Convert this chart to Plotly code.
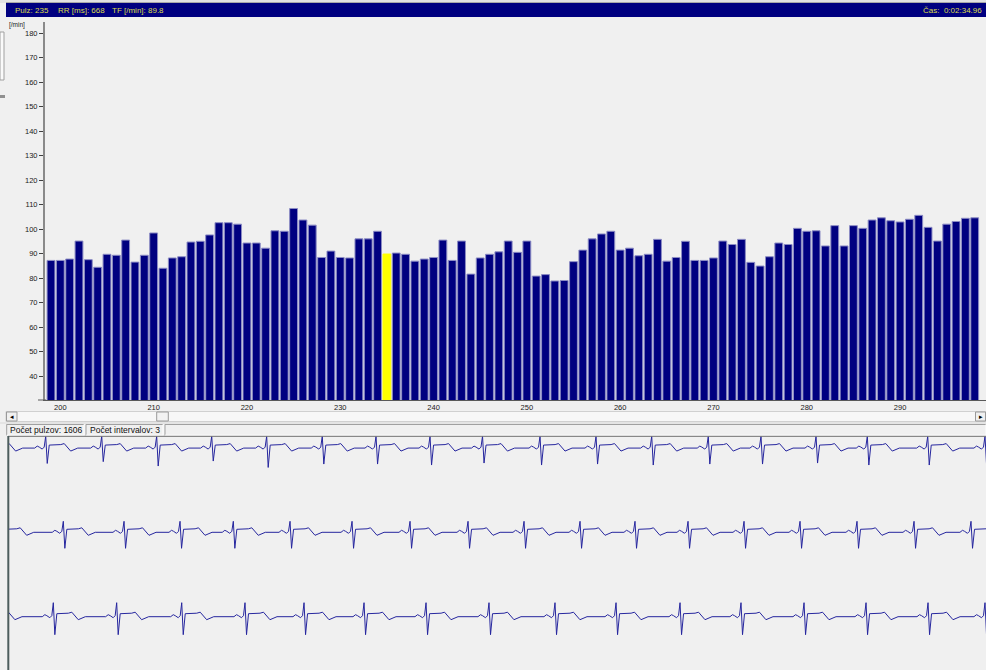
import plotly.graph_objects as go

W, H = 986, 670

# ---------------- data ----------------
pulse_first = 199
selected_pulse = 235
tf_values = [87.2, 87.2, 87.75, 95.1, 87.5, 84.4, 89.7, 89.3, 95.5, 86.5,
             89.3, 98.4, 84.0, 88.2, 88.7, 94.7, 95.0, 97.6, 102.6, 102.6,
             102.0, 94.3, 94.3, 92.2, 99.3, 99.1, 108.4, 103.7, 101.6, 88.4,
             91.0, 88.4, 88.2, 96.0, 96.0, 99.1, 89.8, 90.2, 89.7, 86.9,
             87.75, 88.4, 95.5, 87.2, 95.1, 81.6, 88.2, 89.7, 90.7, 95.1,
             90.5, 95.1, 80.8, 81.4, 78.8, 79.0, 86.7, 91.4, 96.0, 98.0,
             99.1, 91.4, 92.2, 89.1, 89.7, 95.8, 86.9, 88.4, 95.0, 87.2,
             87.2, 88.2, 95.1, 93.7, 95.8, 86.4, 84.9, 88.7, 94.3, 93.7,
             100.3, 99.1, 99.3, 93.1, 101.4, 93.1, 101.4, 100.3, 103.7, 104.6,
             103.4, 102.9, 104.0, 105.6, 100.7, 95.1, 102.0, 103.1, 104.4, 104.6]
pulses = [pulse_first + i for i in range(len(tf_values))]
y_ticks = [40, 50, 60, 70, 80, 90, 100, 110, 120, 130, 140, 150, 160, 170, 180]
x_ticks = [200, 210, 220, 230, 240, 250, 260, 270, 280, 290]

# ECG: R-peak times (s) for each strip, and a beat template (ms, mV)
row1_r = [-0.229, 0.459, 1.159, 1.846, 2.534, 3.221, 3.916, 4.588, 5.263, 5.919,
          6.638, 7.338, 8.034, 8.741, 9.400, 10.088, 10.729, 11.484, 12.200]
row1_s = [-0.8, -0.77, -0.68, -0.9, -0.65, -0.97, -0.8, -0.8, -0.85, -0.75,
          -0.85, -0.8, -0.85, -0.8, -0.8, -0.75, -0.85, -0.85, -0.8]
row2_r = [-0.091, 0.679, 1.438, 2.138, 2.804, 3.513, 4.288, 5.013, 5.738, 6.438,
          7.138, 7.825, 8.488, 9.188, 9.888, 10.600, 11.313, 12.025]
row3_r = [-0.238, 0.554, 1.346, 2.159, 2.950, 3.688, 4.438, 5.213, 6.000, 6.825,
          7.588, 8.388, 9.150, 9.938, 10.713, 11.488, 12.200]
row_r_amp = [0.6, 0.55, 0.7]
row_s_amp = [-0.8, -0.8, -0.9]
tpl_pre_ms = [-138, -106, -81, -44, -19]
tpl_pre_mv = [0.0, 0.10, 0.05, -0.05, 0.05]
tpl_s_ms = 19
tpl_post_ms = [44, 188, 231, 312, 400]
tpl_post_mv = [0.15, 0.175, 0.225, -0.15, 0.0]

status_pulses = 1606
status_intervals = 3
hdr_pulse = 235
hdr_rr = 668
hdr_tf = 89.8
hdr_time = "0:02:34.96"


def build_strip(r_times, r_amp, s_amps):
    xs, ys = [], []
    for k, t in enumerate(r_times):
        for dt, v in zip(tpl_pre_ms, tpl_pre_mv):
            xs.append(t + dt / 1000.0)
            ys.append(v)
        xs.append(t)
        ys.append(r_amp)
        xs.append(t + tpl_s_ms / 1000.0)
        ys.append(s_amps[k] if isinstance(s_amps, list) else s_amps)
        for dt, v in zip(tpl_post_ms, tpl_post_mv):
            xs.append(t + dt / 1000.0)
            ys.append(v)
    return xs, ys


def px(x):
    return x / W


def py(y):
    return 1 - y / H


FONT = "Liberation Sans"
BG = "#f0f0f0"

fig = go.Figure()

bar_colors = ["#ffff00" if p == selected_pulse else "#000080" for p in pulses]
bar_edges = ["#ffff00" if p == selected_pulse else "#8c8cc4" for p in pulses]
fig.add_trace(go.Bar(
    x=pulses, y=tf_values, width=0.84,
    marker=dict(color=bar_colors, line=dict(color=bar_edges, width=1)),
    xaxis="x", yaxis="y", hoverinfo="skip", showlegend=False,
))

ecg_color = "#26269e"
x1, y1 = build_strip(row1_r, row_r_amp[0], row1_s)
x2, y2 = build_strip(row2_r, row_r_amp[1], row_s_amp[1])
x3, y3 = build_strip(row3_r, row_r_amp[2], row_s_amp[2])
for xs, ys, xa, ya in [(x1, y1, "x2", "y2"), (x2, y2, "x3", "y3"), (x3, y3, "x4", "y4")]:
    fig.add_trace(go.Scatter(x=xs, y=ys, mode="lines", line=dict(color=ecg_color, width=1),
                             xaxis=xa, yaxis=ya, hoverinfo="skip", showlegend=False))

tickfont = dict(family=FONT, size=7.5, color="#202020")
layout = dict(
    width=W, height=H, autosize=False,
    margin=dict(l=0, r=0, t=0, b=0, pad=0),
    paper_bgcolor=BG, plot_bgcolor=BG,
    bargap=0,
    xaxis=dict(domain=[px(45), px(986)], range=[198.357, 299.21], anchor="y",
               tickvals=x_ticks, ticks="", showgrid=False, zeroline=False,
               showline=True, linecolor="#5a5a5a", linewidth=1, tickfont=tickfont,
               fixedrange=True),
    yaxis=dict(domain=[py(400), py(22)], range=[30.2, 184.55], anchor="x",
               tickvals=y_ticks, ticks="outside", ticklen=4, tickcolor="#404040",
               showgrid=False, zeroline=False, showline=True, linecolor="#8a8a8a",
               linewidth=2, tickfont=tickfont, fixedrange=True),
)
ecg_x = dict(domain=[px(9), px(986)], range=[0, 12.2125], visible=False, fixedrange=True)
layout["xaxis2"] = dict(ecg_x, anchor="y2")
layout["xaxis3"] = dict(ecg_x, anchor="y3")
layout["xaxis4"] = dict(ecg_x, anchor="y4")
layout["yaxis2"] = dict(domain=[py(488), py(436.5)], range=[-2.0, 0.58], anchor="x2", visible=False)
layout["yaxis3"] = dict(domain=[py(572.3), py(492.3)], range=[-2.0, 2.0], anchor="x3", visible=False)
layout["yaxis4"] = dict(domain=[py(656.7), py(576.7)], range=[-2.0, 2.0], anchor="x4", visible=False)
fig.update_layout(**layout)

shapes = []


def rect(x0, y0, x1, y1, fill, line=None, lw=0):
    shapes.append(dict(type="rect", xref="paper", yref="paper",
                       x0=px(x0), x1=px(x1), y0=py(y1), y1=py(y0),
                       fillcolor=fill, line=dict(color=line or fill, width=lw)))


def hline(x0, x1, y, color, w=1):
    shapes.append(dict(type="line", xref="paper", yref="paper",
                       x0=px(x0), x1=px(x1), y0=py(y), y1=py(y), line=dict(color=color, width=w)))


def vline(x, y0, y1, color, w=1):
    shapes.append(dict(type="line", xref="paper", yref="paper",
                       x0=px(x), x1=px(x), y0=py(y0), y1=py(y1), line=dict(color=color, width=w)))


# header bar
rect(0, 0, 986, 3, "#e2e2e2")
hline(6, 986, 2.5, "#a8a8a8", 1)
rect(6, 3, 986, 17, "#000080")
# left splitter pieces
rect(0, 32, 4, 80, "#fafafa", "#a0a0a0", 1)
rect(0, 95, 5, 98, "#909090")
# x-axis baseline extension to the left
hline(38, 46, 400, "#5a5a5a", 1)
# scrollbar
rect(6, 411.5, 986, 421.5, "#f7f7f7", "#d0d0d0", 1)
rect(6.5, 412, 17, 421, "#f0f0f0", "#9a9a9a", 1)
rect(156.7, 412, 168.3, 421, "#f2f2f2", "#9a9a9a", 1)
rect(975.5, 412, 985.5, 421, "#f0f0f0", "#9a9a9a", 1)
# status bar panels
hline(0, 986, 423, "#d8d8d8", 1)
for (a, b) in [(6.7, 84), (86, 163), (165, 986)]:
    rect(a, 424.3, b, 435.5, BG, None, 0)
    hline(a, b, 424.5, "#a0a0a0", 1)
    vline(a, 424.3, 435.5, "#a0a0a0", 1)
    hline(a, b, 435.2, "#ffffff", 1)
    vline(b, 424.3, 435.5, "#ffffff", 1)
# ECG panel borders
hline(8, 986, 436.3, "#6e6e6e", 1)
vline(8.3, 436, 670, "#4d5d5d", 2)

fig.update_layout(shapes=shapes)

ann = []
hdr_font = dict(family=FONT, size=8, color="#dcdc4a")
ann.append(dict(text=f"Pulz: {hdr_pulse}", x=px(13), y=py(10), xanchor="left", yanchor="middle"))
ann.append(dict(text=f"RR [ms]: {hdr_rr}", x=px(56), y=py(10), xanchor="left", yanchor="middle"))
ann.append(dict(text=f"TF [/min]: {hdr_tf}", x=px(110), y=py(10), xanchor="left", yanchor="middle"))
ann.append(dict(text=f"Čas:  {hdr_time}", x=px(984), y=py(10), xanchor="right", yanchor="middle"))
for a in ann:
    a.update(xref="paper", yref="paper", showarrow=False, font=hdr_font)
more = [
    dict(text="[/min]", x=px(7), y=py(25), xanchor="left", yanchor="middle",
         font=dict(family=FONT, size=6.5, color="#202020")),
    dict(text="◂", x=px(11.8), y=py(416.5), xanchor="center", yanchor="middle",
         font=dict(family="DejaVu Sans", size=7, color="#000000")),
    dict(text="▸", x=px(980.5), y=py(416.5), xanchor="center", yanchor="middle",
         font=dict(family="DejaVu Sans", size=7, color="#000000")),
    dict(text=f"Počet pulzov: {status_pulses}", x=px(8), y=py(430), xanchor="left", yanchor="middle",
         font=dict(family=FONT, size=8.5, color="#101010")),
    dict(text=f"Počet intervalov: {status_intervals}", x=px(88), y=py(430), xanchor="left", yanchor="middle",
         font=dict(family=FONT, size=8.5, color="#101010")),
]
for a in more:
    a.update(xref="paper", yref="paper", showarrow=False)
fig.update_layout(annotations=ann + more)

fig.write_html("out.html",
               config={"displayModeBar": False, "staticPlot": True},
               post_script="document.body.style.margin='0';document.body.style.padding='0';"
                           "document.documentElement.style.overflow='hidden';")
